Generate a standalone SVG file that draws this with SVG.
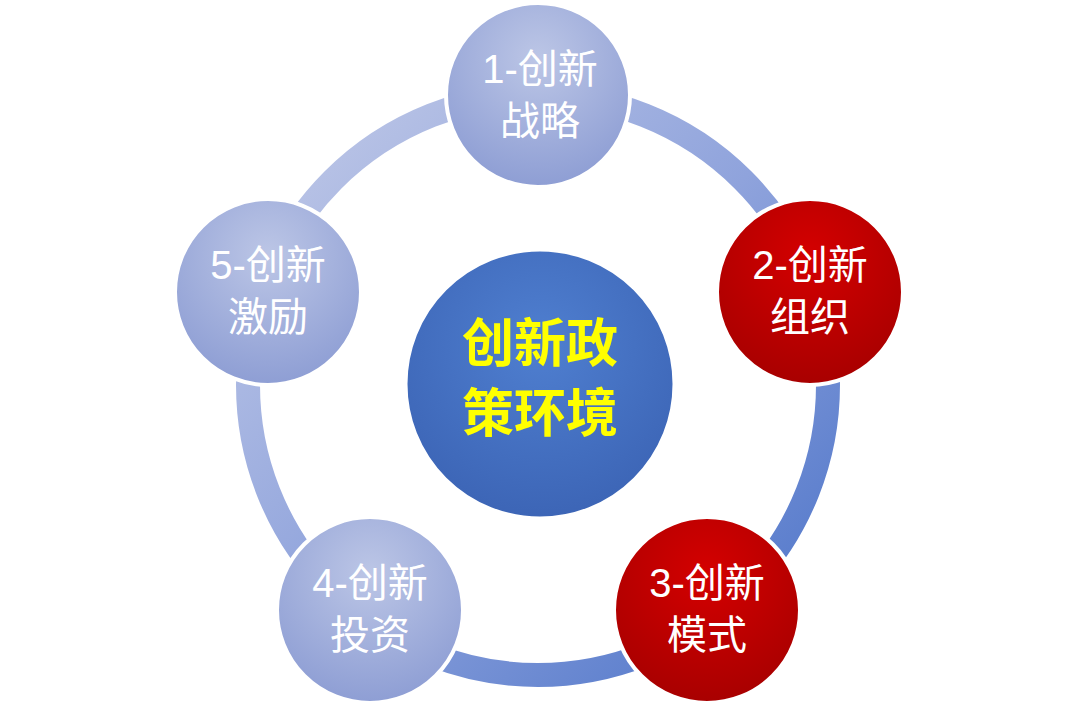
<svg xmlns="http://www.w3.org/2000/svg" width="1080" height="710" viewBox="0 0 1080 710">
<defs>
<linearGradient id="ring" x1="0" y1="0" x2="1" y2="1">
<stop offset="0" stop-color="#c3cbe8"/><stop offset="0.5" stop-color="#8fa3dc"/><stop offset="1" stop-color="#4a72c8"/>
</linearGradient>
<radialGradient id="lav" cx="0.5" cy="0.3" r="0.7">
<stop offset="0" stop-color="#bcc6e6"/><stop offset="1" stop-color="#8e9ed4"/>
</radialGradient>
<radialGradient id="red" cx="0.5" cy="0.3" r="0.7">
<stop offset="0" stop-color="#d40000"/><stop offset="1" stop-color="#a80000"/>
</radialGradient>
<radialGradient id="blue" cx="0.5" cy="0.35" r="0.7">
<stop offset="0" stop-color="#4f7fd0"/><stop offset="1" stop-color="#3b63b4"/>
</radialGradient>
<style>
.n{stroke:#fff;stroke-width:4}
.t{font-family:"Liberation Sans","Noto Sans CJK SC",sans-serif;font-size:40px;fill:#fff;text-anchor:middle}
.c{font-family:"Liberation Sans","Noto Sans CJK SC",sans-serif;font-size:52px;font-weight:bold;fill:#ffff00;text-anchor:middle}
</style>
</defs>
<rect width="1080" height="710" fill="#fff"/>
<g id="connectors">
<circle cx="538" cy="385" r="290" fill="none" stroke="url(#ring)" stroke-width="24"/>
</g>
<g id="center"><circle cx="540" cy="384" r="134" fill="url(#blue)" stroke="#fff" stroke-width="3"/>
<text class="c" x="540" y="362">创新政</text><text class="c" x="540" y="432">策环境</text></g>
<g id="n1"><circle class="n" cx="538" cy="95" r="92" fill="url(#lav)"/><text class="t" x="540" y="83">1-创新</text><text class="t" x="540" y="135">战略</text></g>
<g id="n2"><circle class="n" cx="810" cy="292" r="93" fill="url(#red)"/><text class="t" x="810" y="279">2-创新</text><text class="t" x="810" y="331">组织</text></g>
<g id="n3"><circle class="n" cx="707" cy="610" r="93" fill="url(#red)"/><text class="t" x="707" y="597">3-创新</text><text class="t" x="707" y="649">模式</text></g>
<g id="n4"><circle class="n" cx="370" cy="610" r="93" fill="url(#lav)"/><text class="t" x="370" y="597">4-创新</text><text class="t" x="370" y="649">投资</text></g>
<g id="n5"><circle class="n" cx="268" cy="292" r="93" fill="url(#lav)"/><text class="t" x="268" y="279">5-创新</text><text class="t" x="268" y="331">激励</text></g>
</svg>
